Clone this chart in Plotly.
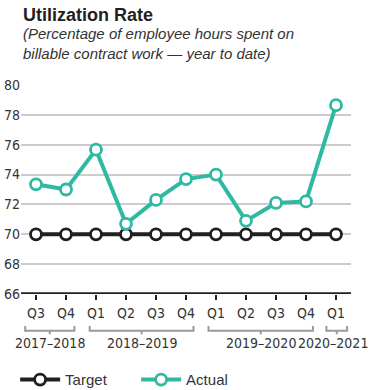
import plotly.graph_objects as go

quarters = ["Q3", "Q4", "Q1", "Q2", "Q3", "Q4", "Q1", "Q2", "Q3", "Q4", "Q1"]
actual = [73.35, 73.0, 75.67, 70.7, 72.3, 73.7, 74.0, 70.9, 72.1, 72.2, 78.65]
target = [70, 70, 70, 70, 70, 70, 70, 70, 70, 70, 70]
years = ["2017\u20132018", "2018\u20132019", "2019\u20132020", "2020\u20132021"]
year_spans = [(-0.36, 1.28), (1.79, 5.25), (5.75, 9.23), (9.68, 10.37)]
year_label_x = [0.46, 3.52, 7.49, 9.9]
yticks = [66, 68, 70, 72, 74, 76, 78, 80]

TEAL = "#2fb9a2"
DARK = "#231f20"
NARROW = "Liberation Sans Narrow, Arial Narrow, DejaVu Sans Condensed, sans-serif"
SANS = "Liberation Sans, Arial, sans-serif"

x = list(range(len(quarters)))

fig = go.Figure()
fig.add_trace(go.Scatter(
    x=x, y=target, name="Target", mode="lines+markers",
    line=dict(color=DARK, width=4),
    marker=dict(size=11, color="white", line=dict(color=DARK, width=2.8)),
))
fig.add_trace(go.Scatter(
    x=x, y=actual, name="Actual", mode="lines+markers",
    line=dict(color=TEAL, width=4),
    marker=dict(size=11, color="white", line=dict(color=TEAL, width=2.8)),
))

shapes = []
for (a, b) in year_spans:
    shapes.append(dict(type="path", xref="x", yref="paper",
                       path=f"M {a},-0.153 L {a},-0.176 L {b},-0.176 L {b},-0.153",
                       line=dict(color="#9a9a9a", width=2)))
    m = (a + b) / 2
    shapes.append(dict(type="line", xref="x", yref="paper", x0=m, x1=m,
                       y0=-0.176, y1=-0.193, line=dict(color="#9a9a9a", width=2)))

annotations = []
for lbl, lx in zip(years, year_label_x):
    annotations.append(dict(text=lbl, x=lx, y=-0.236, xref="x", yref="paper",
                            showarrow=False, xanchor="center", yanchor="middle",
                            font=dict(family=NARROW, size=14, color="#333333")))
annotations.append(dict(text="<b>Utilization Rate</b>", x=0, y=1.335, xref="paper", yref="paper",
                        showarrow=False, xanchor="left", yanchor="middle",
                        font=dict(family=SANS, size=18, color=DARK)))
annotations.append(dict(text="<i>(Percentage of employee hours spent on<br>billable contract work \u2014 year to date)</i>",
                        x=0, y=1.2, xref="paper", yref="paper", align="left",
                        showarrow=False, xanchor="left", yanchor="middle",
                        font=dict(family=SANS, size=15, color="#333333")))

fig.update_layout(
    width=378, height=390,
    margin=dict(l=21, r=27, t=85, b=96),
    paper_bgcolor="white", plot_bgcolor="white",
    showlegend=True,
    legend=dict(orientation="h", xref="container", yref="container",
                x=0.04, y=0.026, xanchor="left", yanchor="middle",
                font=dict(family=SANS, size=15, color="#333333"),
                itemwidth=40, traceorder="normal",
                entrywidth=66, entrywidthmode="pixels"),
    xaxis=dict(range=[-0.5, 10.5], tickvals=x, ticktext=quarters,
               showgrid=False, zeroline=False, showline=False, automargin=False,
               ticks="outside", ticklen=5, tickwidth=1.5, tickcolor=DARK,
               ticklabelstandoff=1,
               tickfont=dict(family=NARROW, size=14, color="#333333")),
    yaxis=dict(range=[66, 80], tickvals=yticks, showgrid=True, gridcolor="#cccccc",
               gridwidth=1.5, zeroline=False, showline=False, ticks="", automargin=False,
               tickfont=dict(family=NARROW, size=14, color="#333333")),
    shapes=shapes + [dict(type="line", xref="paper", yref="y", x0=0, x1=1, y0=66, y1=66,
                          line=dict(color=DARK, width=3.5))],
    annotations=annotations,
)

fig.write_html("out.html")
